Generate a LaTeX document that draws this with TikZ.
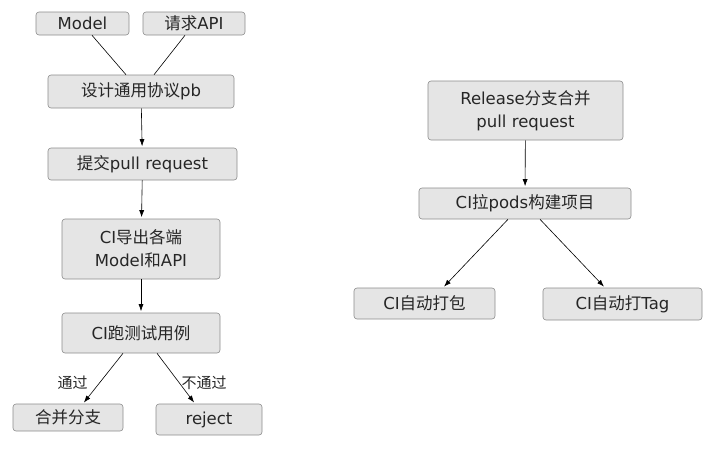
\documentclass[tikz,border=0pt]{standalone}
\usepackage{fontspec}
\setmainfont{DejaVu Sans}
\newfontfamily\cjk{Noto Sans CJK SC}
\newcommand{\zh}[1]{{\cjk #1}}
\usetikzlibrary{arrows.meta}
\begin{document}
\begin{tikzpicture}[x=1pt,y=-1pt,
  box/.style={draw=black!45, fill=black!10, rounded corners=3pt, line width=0.6pt,
    text=black!85, font=\fontsize{16.5}{23}\selectfont, inner sep=0pt, anchor=center, align=center},
  lbl/.style={text=black!85, font=\fontsize{15}{17}\selectfont\cjk, inner sep=0pt},
  link/.style={draw=black, line width=0.6pt},
  arr/.style={link, -{Latex[length=7pt,width=5pt]}, shorten >=1.5pt}]
\useasboundingbox (0,0) rectangle (715,450);
% left column
\node[box, minimum width=93pt, minimum height=23pt] (model) at (82.5,23.5) {Model};
\node[box, minimum width=102pt, minimum height=23pt] (req) at (194,23.5) {\zh{请求}API};
\node[box, minimum width=186pt, minimum height=33pt] (pb) at (141,91.5) {\zh{设计通用协议}pb};
\node[box, minimum width=189pt, minimum height=32pt] (pr) at (142.5,164) {\zh{提交}pull request};
\node[box, minimum width=158pt, minimum height=60pt] (exp) at (141,249) {CI\zh{导出各端}\\Model\zh{和}API};
\node[box, minimum width=158pt, minimum height=40pt] (test) at (141,333) {CI\zh{跑测试用例}};
\node[box, minimum width=110pt, minimum height=27pt] (merge) at (68,417.5) {\zh{合并分支}};
\node[box, minimum width=106pt, minimum height=31pt] (rej) at (209,419.5) {reject};
\draw[link] ([xshift=9.5pt]model.south) -- ([xshift=-15pt]pb.north);
\draw[link] ([xshift=-9pt]req.south) -- ([xshift=13pt]pb.north);
\draw[arr] (pb) -- (pr);
\draw[arr] (pr) -- (exp);
\draw[arr] (exp) -- (test);
\draw[arr] ([xshift=-18pt]test.south) -- ([xshift=15pt]merge.north);
\draw[arr] ([xshift=16pt]test.south) -- ([xshift=-14pt]rej.north);
\node[lbl] (l1) at (72.5,383) {通过};
\node[lbl] (l2) at (204,383) {不通过};
% right column
\node[box, minimum width=195pt, minimum height=59pt] (rel) at (525.5,110.5) {Release\zh{分支合并}\\pull request};
\node[box, minimum width=212pt, minimum height=31pt] (pods) at (525,203.5) {CI\zh{拉}pods\zh{构建项目}};
\node[box, minimum width=141pt, minimum height=31pt] (pack) at (424.5,303.5) {CI\zh{自动打包}};
\node[box, minimum width=159pt, minimum height=32pt] (tag) at (622.5,304) {CI\zh{自动打}Tag};
\draw[arr] (rel) -- (pods);
\draw[arr] ([xshift=-17pt]pods.south) -- ([xshift=18.5pt]pack.north);
\draw[arr] ([xshift=15pt]pods.south) -- ([xshift=-17.5pt]tag.north);
\end{tikzpicture}
\end{document}
